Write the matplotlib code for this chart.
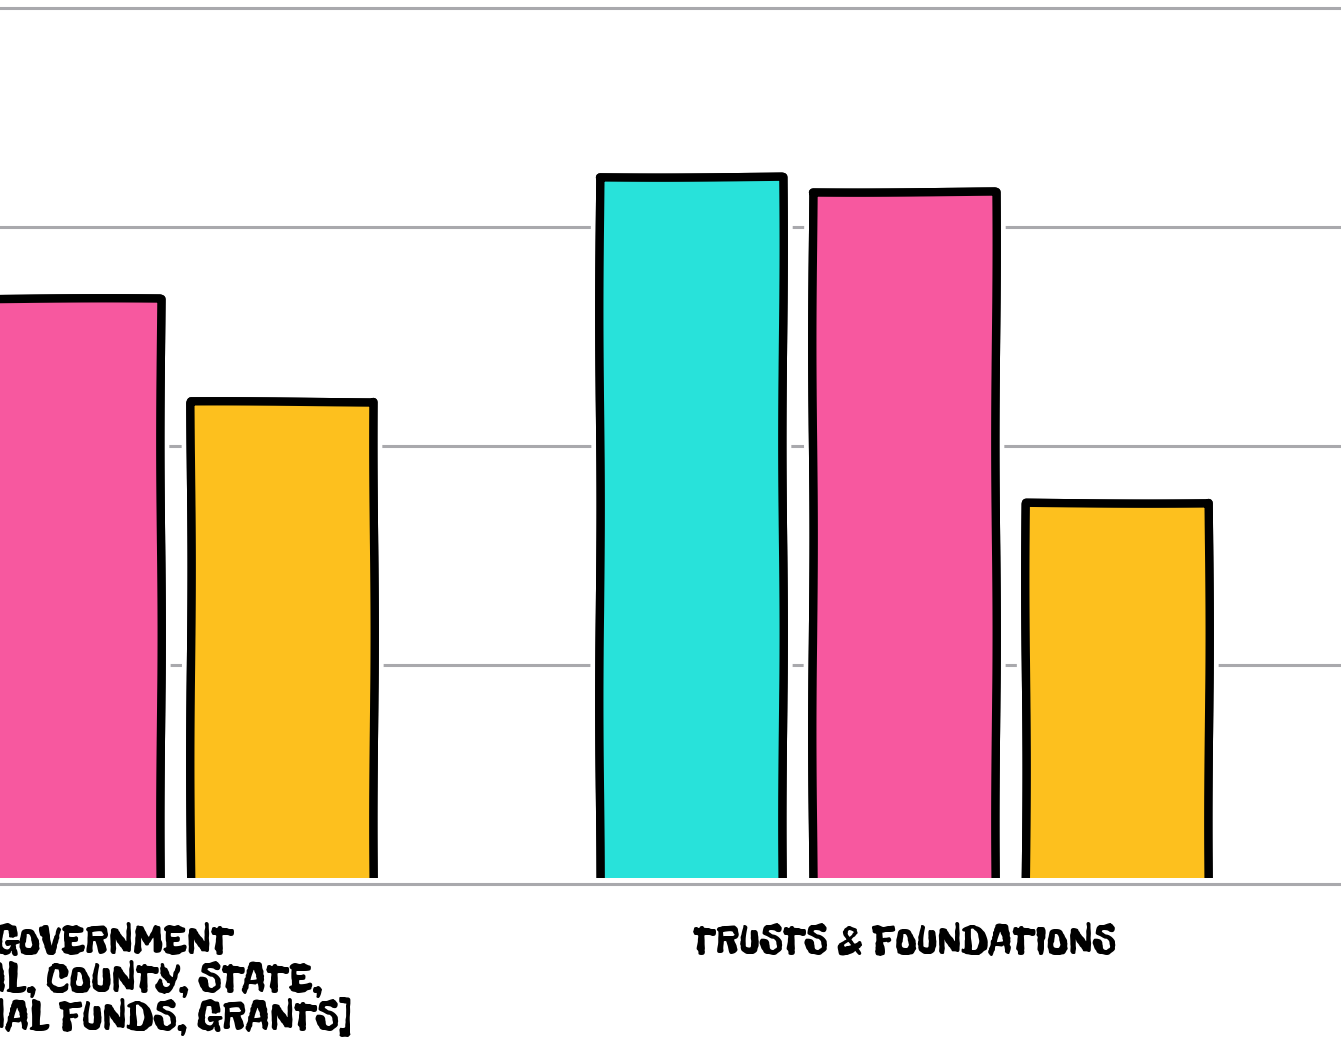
import numpy as np
import matplotlib
matplotlib.use('Agg')
import matplotlib.pyplot as plt
import matplotlib.patheffects as pe

## Funding sources and amounts per series
categories = ['GOVERNMENT\n[LOCAL, COUNTY, STATE,\nNATIONAL FUNDS, GRANTS]', 'TRUSTS & FOUNDATIONS']
series_a = [np.nan, 32.3]
series_b = [26.7, 31.6]
series_c = [22.0, 17.4]
grid_values = [0, 10, 20, 30, 40]

colors = ['#28E2DA', '#F7589F', '#FDC01E']

## Figure and axes (axes spans full width, groups run past the edges)
fig = plt.figure(figsize=(13.41, 10.39), dpi=100)
ax = fig.add_axes([0, 0.1550, 1, 0.8582])
ax.set_xlim(-0.0832, 1.5228)
ax.set_ylim(0.27, 41)

x = np.arange(len(categories))
step = 0.255
width = 0.219

## Grid lines drawn by hand so the zero line can sit below the axes box
for g in grid_values :
    ax.axhline(g, color='#A9A9AD', linewidth=2.2, zorder=1, clip_on=False)

## Bars start below the axes so their bottom edge is clipped away
for i, vals in enumerate([series_a, series_b, series_c]) :
    vals = np.array(vals, dtype=float)
    bars = ax.bar(x + (i - 1) * step, vals + 2, bottom=-2, width=width,
                  color=colors[i], edgecolor='black', linewidth=6, zorder=3)
    for b in bars :
        b.set_sketch_params(scale=0.7, length=400, randomness=1.5)
        b.set_path_effects([pe.withStroke(linewidth=13, foreground='white'), pe.Normal()])
        b.set_joinstyle('round')

## Category labels under each group
label_shift = [32, 0]
for xi, cat, dx in zip(x, categories, label_shift) :
    ax.annotate(cat, xy=(xi, 0), xycoords=('data', 'axes fraction'),
                xytext=(dx, -34), textcoords='offset points',
                ha='center', va='top', multialignment='center',
                fontsize=30, family=['Freckle Face', 'DejaVu Sans'], linespacing=0.95,
                annotation_clip=False)
ax.set_xticks([])
ax.set_yticks([])
for s in ax.spines.values() :
    s.set_visible(False)

fig.savefig('out.png', dpi=100)
